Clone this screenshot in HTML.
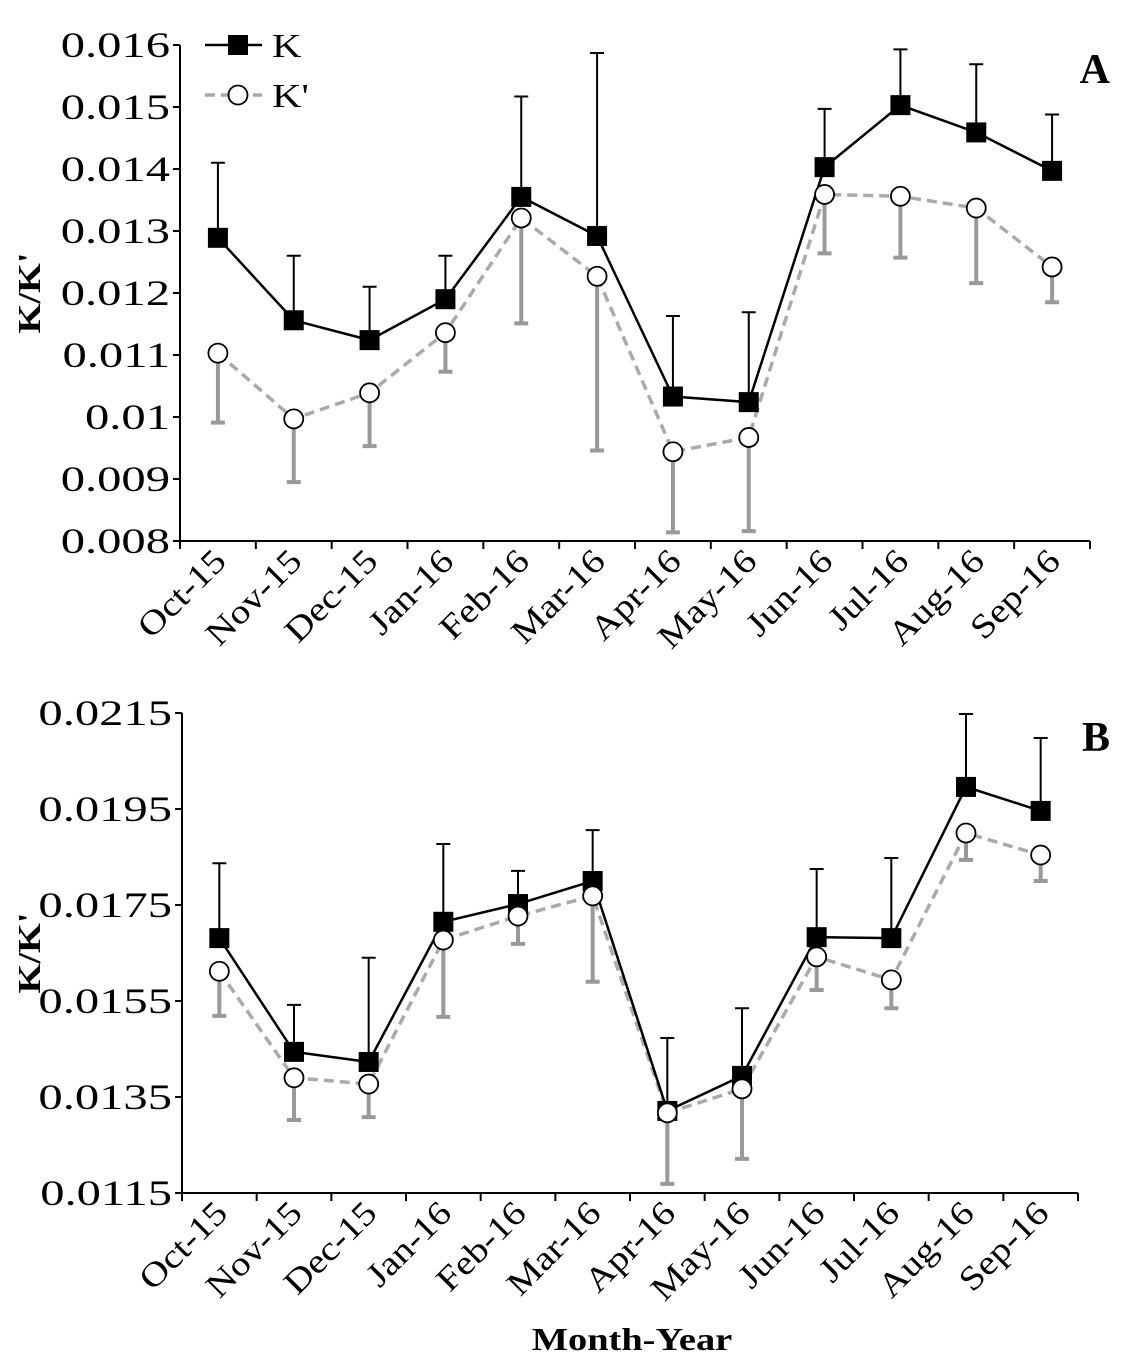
<!DOCTYPE html>
<html><head><meta charset="utf-8"><style>
body{margin:0;background:#fff;}
svg{display:block;font-family:"Liberation Serif",serif;}
</style></head><body>
<svg id="c" width="1136" height="1362" viewBox="0 0 1136 1362" xmlns="http://www.w3.org/2000/svg"></svg>
<script>
const months=["Oct-15","Nov-15","Dec-15","Jan-16","Feb-16","Mar-16","Apr-16","May-16","Jun-16","Jul-16","Aug-16","Sep-16"];
const aK=[0.01289,0.01156,0.01124,0.01190,0.01355,0.01292,0.01033,0.01024,0.01403,0.01503,0.01459,0.01397];
const aKUpper=[0.0141,0.0126,0.0121,0.0126,0.01517,0.01587,0.01163,0.01169,0.01497,0.01593,0.01569,0.01488];
const aKp=[0.01103,0.00997,0.01039,0.01136,0.01321,0.01227,0.00944,0.00967,0.01359,0.01356,0.01337,0.01242];
const aKpLower=[0.00991,0.00895,0.00953,0.01073,0.01151,0.00946,0.00814,0.00816,0.01264,0.01257,0.01216,0.01185];
const aTicks=["0.008","0.009","0.01","0.011","0.012","0.013","0.014","0.015","0.016"];
const bK=[0.01681,0.01444,0.01423,0.01715,0.01752,0.0180,0.01321,0.01394,0.01683,0.01681,0.01996,0.01946];
const bKUpper=[0.01837,0.01542,0.0164,0.01877,0.01821,0.01906,0.01473,0.01535,0.01825,0.01848,0.02148,0.02098];
const bKp=[0.01612,0.01390,0.01377,0.01677,0.01727,0.01769,0.01317,0.01367,0.01642,0.01594,0.0190,0.01854];
const bKpLower=[0.01519,0.01302,0.01308,0.01517,0.01669,0.0159,0.01169,0.01221,0.01573,0.01535,0.01844,0.0180];
const bTicks=["0.0115","0.0135","0.0155","0.0175","0.0195","0.0215"];

const svg=document.getElementById('c');
const NS="http://www.w3.org/2000/svg";
function mk(tag,attrs,parent){const e=document.createElementNS(NS,tag);for(const k in attrs)e.setAttribute(k,attrs[k]);(parent||svg).appendChild(e);return e;}

function panel(p){
  const g=mk('g',{});
  
  
  const ymin=+p.ticks[0], ymax=+p.ticks[p.ticks.length-1];
  const Y=v=>p.y0-(v-ymin)/(ymax-ymin)*(p.y0-p.y1);
  const bw=(p.x1-p.x0)/months.length;
  const X=i=>p.x0+bw*(i+0.5);
  const ax=mk('path',{d:`M${p.x0},${p.y1} V${p.y0} H${p.x1}`,stroke:'#000','stroke-width':2,fill:'none'},g);
  
  
  p.ticks.forEach(t=>{
    const y=Y(+t);
    mk('line',{x1:p.x0-7,x2:p.x0,y1:y,y2:y,stroke:'#000','stroke-width':2},g);
    const tx=mk('text',{x:0,y:0,'text-anchor':'end','font-size':36,transform:`translate(${p.x0-10} ${y+12}) scale(1.35 1)`},g);
    tx.textContent=t;
    
    
  });
  for(let i=0;i<=months.length;i++){const x=p.x0+bw*i;mk('line',{x1:x,x2:x,y1:p.y0,y2:p.y0+8,stroke:'#000','stroke-width':2},g);}
  months.forEach((m,i)=>{
    const x=X(i)+10,y=p.y0+22;
    const tx=mk('text',{x:0,y:0,'text-anchor':'end','font-size':34,transform:`translate(${x} ${y}) rotate(-45) scale(1.15 1)`},g);
    tx.textContent=m;
    
    
  });
  const yt=mk('text',{x:0,y:0,'text-anchor':'middle','font-size':32,'font-weight':'bold',transform:`translate(40 ${(p.y0+p.y1)/2}) rotate(-90) scale(1.2 1)`},g);
  yt.textContent="K/K'";
  
  
  const lt=mk('text',{x:1110,y:p.y1+38,'text-anchor':'end','font-size':42,'font-weight':'bold'},g);
  lt.textContent=p.letter;
  
  
  p.kp.forEach((v,i)=>{
    const x=X(i);
    const e=mk('path',{d:`M${x},${Y(v)} V${Y(p.kpl[i])} M${x-7},${Y(p.kpl[i])} H${x+7}`,stroke:'#999','stroke-width':4,fill:'none'},g);
    
    
  });
  p.k.forEach((v,i)=>{
    const x=X(i);
    const e=mk('path',{d:`M${x},${Y(v)} V${Y(p.ku[i])} M${x-7},${Y(p.ku[i])} H${x+7}`,stroke:'#000','stroke-width':2,fill:'none'},g);
    
    
  });
  const l1=mk('polyline',{points:p.kp.map((v,i)=>X(i)+','+Y(v)).join(' '),fill:'none',stroke:'#aaa','stroke-width':3.5,'stroke-dasharray':'10,6'},g);
  
  
  const l2=mk('polyline',{points:p.k.map((v,i)=>X(i)+','+Y(v)).join(' '),fill:'none',stroke:'#000','stroke-width':2.5},g);
  
  
  p.k.forEach((v,i)=>{
    const r=mk('rect',{x:X(i)-10,y:Y(v)-10,width:20,height:20,fill:'#000'},g);
    
    
  });
  p.kp.forEach((v,i)=>{
    const c=mk('circle',{cx:X(i),cy:Y(v),r:9.5,fill:'#fff',stroke:'#000','stroke-width':1.8},g);
    
    
  });
}
panel({name:'panel-a',letter:'A',x0:180,x1:1090,y0:541,y1:45,ticks:aTicks,k:aK,ku:aKUpper,kp:aKp,kpl:aKpLower});
panel({name:'panel-b',letter:'B',x0:182,x1:1078,y0:1193,y1:713,ticks:bTicks,k:bK,ku:bKUpper,kp:bKp,kpl:bKpLower});
const lg=mk('g',{});


mk('line',{x1:205,x2:262,y1:45,y2:45,stroke:'#000','stroke-width':2.5},lg);
mk('rect',{x:228,y:35,width:20,height:20,fill:'#000'},lg);
const t1=mk('text',{x:0,y:0,'font-size':34,transform:'translate(272 57) scale(1.2 1)'},lg);t1.textContent='K';


mk('line',{x1:205,x2:262,y1:95,y2:95,stroke:'#aaa','stroke-width':3.5,'stroke-dasharray':'10,6'},lg);
mk('circle',{cx:238,cy:95,r:9.5,fill:'#fff',stroke:'#000','stroke-width':1.8},lg);
const t2=mk('text',{x:0,y:0,'font-size':34,transform:'translate(272 107) scale(1.2 1)'},lg);t2.textContent="K'";


const xt=mk('text',{x:0,y:0,'text-anchor':'middle','font-size':32,'font-weight':'bold',transform:'translate(632 1350) scale(1.2 1)'});
xt.textContent='Month-Year';


</script>
</body></html>
